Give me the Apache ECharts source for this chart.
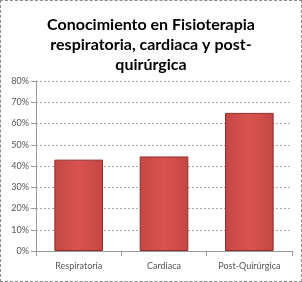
<!DOCTYPE html>
<html><head><meta charset="utf-8">
<script src="https://cdn.jsdelivr.net/npm/echarts@6/dist/echarts.min.js"></script>
<style>html,body{margin:0;padding:0;background:#fff}
#c{width:302px;height:282px;box-sizing:border-box;border:1px dashed #8a8a8a;}</style>
</head><body><div id="c"></div>
<script>
const categories = ['Respiratoria', 'Cardiaca', 'Post-Quirúrgica'];
const values = [0.43, 0.445, 0.65];
const titleText = 'Conocimiento en Fisioterapia\nrespiratoria, cardiaca y post-\nquirúrgica';
const chart = echarts.init(document.getElementById('c'));
chart.setOption({
  animation: false,
  title: {
    text: titleText, left: 'center', top: 9,
    textStyle: {fontFamily: 'Lato', fontWeight: 'bold', fontSize: 16, lineHeight: 20, color: '#000'}
  },
  grid: {left: 35, right: 9, top: 80, bottom: 30},
  xAxis: {
    type: 'category', data: categories,
    axisLine: {lineStyle: {color: '#999'}},
    axisTick: {show: true, lineStyle: {color: '#999'}},
    axisLabel: {fontFamily: 'Lato', fontSize: 9, color: '#555', margin: 11}
  },
  yAxis: {
    type: 'value', min: 0, max: 0.8, interval: 0.1,
    axisLine: {show: true, lineStyle: {color: '#999'}},
    axisTick: {show: true, lineStyle: {color: '#999'}},
    axisLabel: {fontFamily: 'Lato', fontSize: 9, color: '#555', margin: 7,
      formatter: v => Math.round(v * 100) + '%'},
    splitLine: {lineStyle: {color: '#aaa', type: [2, 2]}}
  },
  series: [{
    type: 'bar', data: values, barCategoryGap: '43%',
    itemStyle: {
      color: new echarts.graphic.LinearGradient(0, 0, 1, 0, [
        {offset: 0, color: '#c44744'}, {offset: 0.5, color: '#d9534f'}, {offset: 1, color: '#c44744'}
      ]),
      borderColor: '#8e2f2c', borderWidth: 1
    }
  }]
});
</script></body></html>
